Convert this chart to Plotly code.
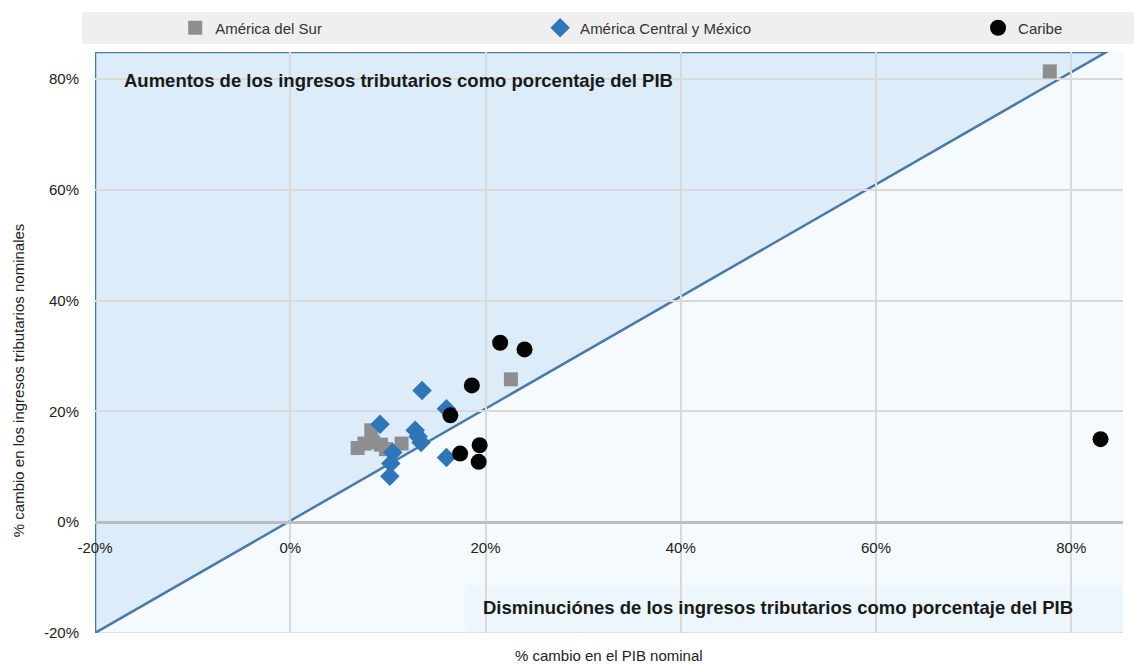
import plotly.graph_objects as go

# ---- data ----
sur_x = [77.8, 22.6, 8.3, 6.9, 7.6, 8.5, 9.3, 9.8, 11.4]
sur_y = [81.4, 25.8, 16.6, 13.4, 14.2, 14.4, 14.0, 13.2, 14.2]

central_x = [9.2, 12.8, 13.1, 13.4, 10.5, 10.3, 10.2, 13.5, 16.0, 16.0]
central_y = [17.7, 16.6, 15.5, 14.4, 12.6, 10.6, 8.3, 23.8, 20.5, 11.7]

caribe_x = [21.5, 24.0, 18.6, 16.4, 17.4, 19.4, 19.3, 83.0]
caribe_y = [32.4, 31.2, 24.7, 19.3, 12.4, 13.9, 10.9, 15.0]

# triangle region (increase of tax revenue as % of GDP): corners
tri_x = [-20, -20, 83.6]
tri_y = [-20, 84.9, 84.9]

x_ticks = [-20, 0, 20, 40, 60, 80]
y_ticks = [-20, 0, 20, 40, 60, 80]
x_range = [-20, 85.3]
y_range = [-20, 84.9]

FONT = "Liberation Sans, Arial, sans-serif"

fig = go.Figure()

fig.add_trace(go.Scatter(
    x=sur_x, y=sur_y, mode="markers", name="América del Sur",
    marker=dict(symbol="square", size=14, color="#8e8e90"),
    legend="legend", showlegend=True))
fig.add_trace(go.Scatter(
    x=central_x, y=central_y, mode="markers", name="América Central y México",
    marker=dict(symbol="diamond", size=15, color="#2f76b8"),
    legend="legend2", showlegend=True))
fig.add_trace(go.Scatter(
    x=caribe_x, y=caribe_y, mode="markers", name="Caribe",
    marker=dict(symbol="circle", size=16, color="#050505"),
    legend="legend3", showlegend=True))

path = "M {} {} L {} {} L {} {} Z".format(tri_x[0], tri_y[0], tri_x[1], tri_y[1], tri_x[2], tri_y[2])
shapes = [
    # legend bar
    dict(type="rect", xref="paper", yref="paper", x0=-0.0126, x1=1.03, y0=1.0138, y1=1.0688,
         fillcolor="#efefef", line=dict(width=0), layer="below"),
    # annotation boxes
    dict(type="rect", xref="paper", yref="paper", x0=0.005, x1=0.846, y0=0.904, y1=0.991,
         fillcolor="rgba(200,222,240,0.35)", line=dict(width=0), layer="below"),
    dict(type="rect", xref="paper", yref="paper", x0=0.36, x1=1.0, y0=0.0, y1=0.083,
         fillcolor="rgba(228,241,250,0.4)", line=dict(width=0), layer="below"),
    # triangle
    dict(type="path", path=path, xref="x", yref="y", fillcolor="#dcecf8",
         line=dict(color="#4a78a8", width=2.5), layer="below"),
    # bottom edge line
    dict(type="line", xref="paper", yref="y", x0=0, x1=1, y0=y_range[0], y1=y_range[0],
         line=dict(color="#d9d9d9", width=1.5), layer="below"),
]

annotations = [
    dict(text="<b>Aumentos de los ingresos tributarios como porcentaje del PIB</b>",
         xref="paper", yref="paper", x=0.0263, y=0.9518, xanchor="left", yanchor="middle",
         showarrow=False, font=dict(family=FONT, size=18.5, color="#1a1a1a")),
    dict(text="<b>Disminuciónes de los ingresos tributarios como porcentaje del PIB</b>",
         xref="paper", yref="paper", x=0.9533, y=0.0447, xanchor="right", yanchor="middle",
         showarrow=False, font=dict(family=FONT, size=18.5, color="#1a1a1a")),
    dict(text="% cambio en el PIB nominal", xref="paper", yref="paper", x=0.5, y=-0.038,
         xanchor="center", yanchor="middle", showarrow=False,
         font=dict(family=FONT, size=15, color="#222")),
    dict(text="% cambio en los ingresos tributarios nominales", xref="paper", yref="paper",
         x=-0.075, y=0.435, xanchor="center", yanchor="middle", textangle=-90, showarrow=False,
         font=dict(family=FONT, size=15, color="#222")),
]

zero_frac = (0 - y_range[0]) / (y_range[1] - y_range[0])

fig.update_layout(
    width=1134, height=656,
    margin=dict(l=87, r=19, t=44, b=31, autoexpand=False),
    paper_bgcolor="white", plot_bgcolor="#f4fafe",
    font=dict(family=FONT, size=15, color="#222"),
    shapes=shapes, annotations=annotations,
    legend=dict(x=0.078, y=1.0413, xanchor="left", yanchor="middle", orientation="h",
                bgcolor="rgba(0,0,0,0)", font=dict(family=FONT, size=15, color="#333")),
    legend2=dict(x=0.433, y=1.0413, xanchor="left", yanchor="middle", orientation="h",
                 bgcolor="rgba(0,0,0,0)", font=dict(family=FONT, size=15, color="#333")),
    legend3=dict(x=0.859, y=1.0413, xanchor="left", yanchor="middle", orientation="h",
                 bgcolor="rgba(0,0,0,0)", font=dict(family=FONT, size=15, color="#333")),
    xaxis=dict(range=x_range, tickvals=x_ticks, ticktext=[f"{v}%" for v in x_ticks],
               showgrid=True, gridcolor="#d9d9d9", gridwidth=1.5, zeroline=False,
               showline=False, anchor="free", position=zero_frac, automargin=False,
               ticks="outside", ticklen=12, tickcolor="rgba(0,0,0,0)",
               tickfont=dict(family=FONT, size=15, color="#222")),
    yaxis=dict(range=y_range, tickvals=y_ticks, ticktext=[f"{v}%" for v in y_ticks],
               showgrid=True, gridcolor="#d9d9d9", gridwidth=1.5, automargin=False,
               zeroline=True, zerolinecolor="#bdbdbd", zerolinewidth=2.5,
               showline=False, ticks="outside", ticklen=12, tickcolor="rgba(0,0,0,0)",
               tickfont=dict(family=FONT, size=15, color="#222")),
)

fig.write_html("out.html")
